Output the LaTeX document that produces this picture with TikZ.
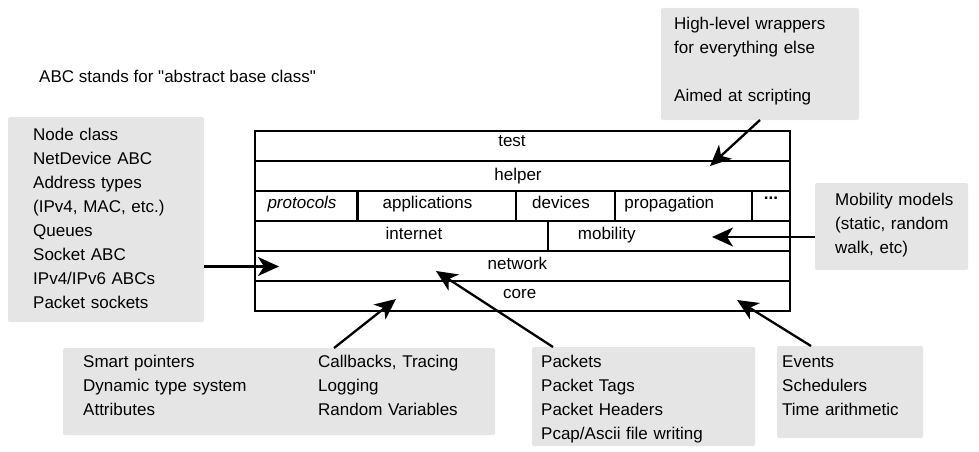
\documentclass[tikz,border=0pt]{standalone}
\usepackage{fontspec}
\setmainfont{Liberation Sans}[Ligatures=TeXOff]
\usetikzlibrary{arrows.meta,calc}
\definecolor{panelgray}{RGB}{229,229,229}
\begin{document}
\begin{tikzpicture}[x=1pt,y=-1pt,
  panel/.style={fill=panelgray, draw=none, rounded corners=1.5pt, anchor=north west, inner sep=0pt, outer sep=0pt},
  txt/.style={inner sep=0pt, font=\fontsize{17pt}{24pt}\selectfont},
  layertext/.style={txt, anchor=base},
  note/.style={txt, anchor=base west},
  notelines/.style={txt, anchor=base west, align=left, text width=#1},
  layerline/.style={line width=2.3pt},
  ptr/.style={line width=2.3pt, -{Stealth[length=21pt,width=19pt,inset=6pt]}}
]
\useasboundingbox (0,0) rectangle (979,452);

% grey annotation panels
\node[panel, minimum width=196pt, minimum height=205pt] (netpanel)    at (8,117)   {};
\node[panel, minimum width=198pt, minimum height=112pt] (helperpanel) at (661,8)   {};
\node[panel, minimum width=153pt, minimum height=87pt]  (mobpanel)    at (815,183) {};
\node[panel, minimum width=432pt, minimum height=87pt]  (corepanel)   at (63,348)  {};
\node[panel, minimum width=223pt, minimum height=99pt]  (pktpanel)    at (532,347) {};
\node[panel, minimum width=146pt, minimum height=92pt]  (evpanel)     at (777,346) {};

% panel texts
\node[note] (abcnote) at (39,82) {ABC stands for "abstract base class"};
\node[notelines=170pt] (nettext) at (33,140)
  {Node class\\NetDevice ABC\\Address types\\(IPv4, MAC, etc.)\\Queues\\Socket ABC\\IPv4/IPv6 ABCs\\Packet sockets};
\node[notelines=180pt] (helpertext) at (674,30)
  {High-level wrappers\\for everything else\\[24pt]Aimed at scripting};
\node[notelines=130pt] (mobtext) at (835,205)
  {Mobility models\\(static, random\\walk, etc)};
\node[notelines=200pt] (coretextA) at (83,367.3)
  {Smart pointers\\Dynamic type system\\Attributes};
\node[notelines=170pt] (coretextB) at (318,367.3)
  {Callbacks, Tracing\\Logging\\Random Variables};
\node[notelines=210pt] (pkttext) at (541,367.3)
  {Packets\\Packet Tags\\Packet Headers\\Pcap/Ascii file writing};
\node[notelines=135pt] (evtext) at (782,367.3)
  {Events\\Schedulers\\Time arithmetic};

% layer stack
\draw[layerline] (255,131) rectangle (790,311);
\foreach \y in {161,191,221,251,281}
  \draw[layerline] (255,\y) -- (790,\y);
\foreach \x in {357.6,516.3,614.8,752}
  \draw[layerline] (\x,191) -- (\x,221);
\draw[layerline] (547.8,221) -- (547.8,251);

% layer names
\node[layertext] (test)     at (512,146.3)   {test};
\node[layertext] (helper)   at (518,180.2)   {helper};
\node[layertext] (protocols) at (302,208.5)  {\itshape protocols};
\node[layertext] (apps)     at (427.5,208.5) {applications};
\node[layertext] (devices)  at (561,208.5)   {devices};
\node[layertext] (prop)     at (669.3,208.5) {propagation};
\node[layertext] (more)     at (771,199)     {\bfseries ...};
\node[layertext] (internet) at (414,239.5)   {internet};
\node[layertext] (mobility) at (606.7,239.5) {mobility};
\node[layertext] (network)  at (517.4,269)   {network};
\node[layertext] (core)     at (519.7,298.3) {core};

% arrow targets inside the stack
\coordinate (helpertip) at (710,166);
\coordinate (mobtip)    at (712,237);
\coordinate (nettip)    at (279,266.5);
\coordinate (coretipA)  at (396,299);
\coordinate (pkttip)    at (436,271);
\coordinate (coretipB)  at (737,300);

% pointers from the panels
\draw[ptr] ($(helperpanel.south west)+(99,0)$) -- (helpertip);
\draw[ptr] (mobpanel.west |- mobtip) -- (mobtip);
\draw[ptr] (netpanel.east |- nettip) -- (nettip);
\draw[ptr] ($(corepanel.north west)+(271,0)$) -- (coretipA);
\draw[ptr] ($(pktpanel.north west)+(21,0)$) -- (pkttip);
\draw[ptr] ($(evpanel.north west)+(34,0)$) -- (coretipB);
\end{tikzpicture}
\end{document}
